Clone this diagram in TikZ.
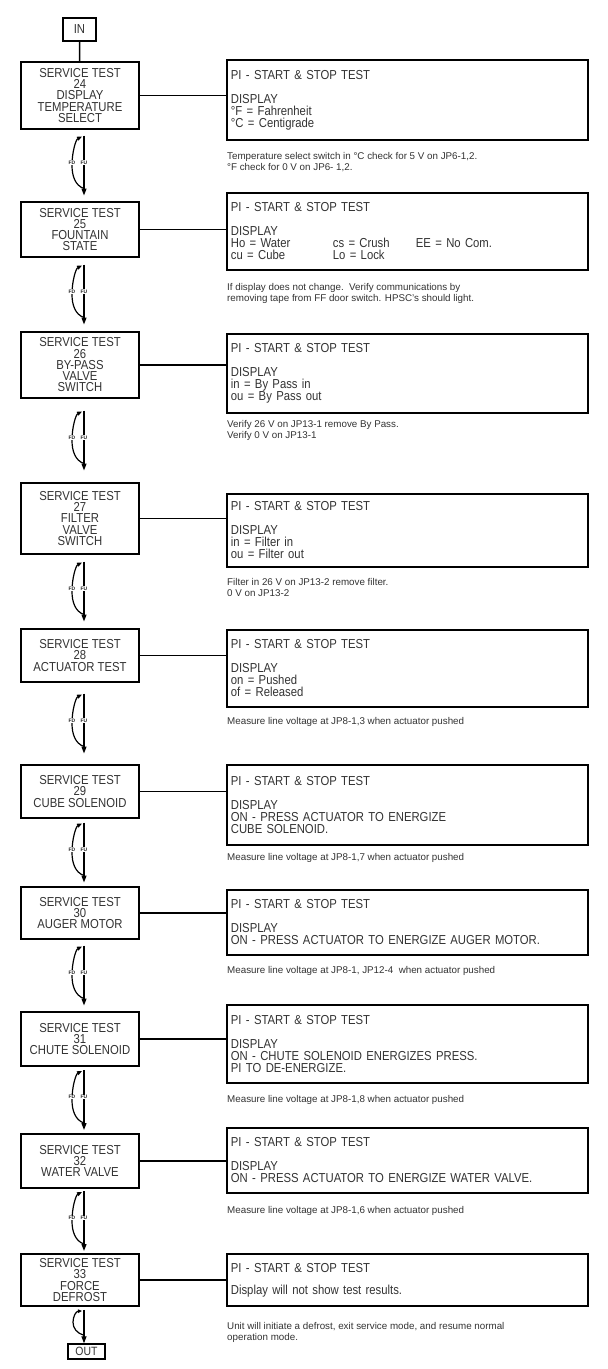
\documentclass[tikz,border=0pt]{standalone}
\usepackage{fontspec}
\setmainfont{Liberation Sans}
\newfontfamily\bxf{Liberation Sans}[FakeStretch=0.87]
\usetikzlibrary{arrows.meta,calc}
\newcommand\fdfulink[3]{%
  \coordinate (m#3) at ($(#1.south)!.5!(#2.north)$);
  \coordinate (t#3) at ($(m#3)+(4,-30)$);
  \coordinate (h#3) at ($(m#3)+(4,30)$);
  \draw[fdfu,-{Triangle[length=7pt,width=5pt]}] (t#3) -- (h#3);
  \draw[fdfu,-{Triangle[length=5pt,width=4pt]}] ($(m#3)+(4,23)$) .. controls ($(m#3)+(-5,20)$) and ($(m#3)+(-8,10)$) .. ($(m#3)+(-8,0)$) .. controls ($(m#3)+(-8,-14)$) and ($(m#3)+(-4,-26)$) .. ($(m#3)+(2,-29)$);
  \node[lab] (fd#3) at ($(m#3)+(-8,-3)$) {FD};
  \node[lab] (fu#3) at ($(m#3)+(4,-3)$) {FU};
}
\begin{document}
\begin{tikzpicture}[x=1pt,y=-1pt,
  lbox/.style={draw=black, line width=1.8pt, minimum width=118pt, inner sep=0pt, align=center,
    font=\bxf\fontsize{13}{11.25}\selectfont, text=black!80},
  rbox/.style={draw=black, line width=1.8pt, minimum width=361pt, text width=353pt, inner xsep=4pt,
    inner ysep=0pt, align=left, anchor=north west, font=\bxf\fontsize{13}{12}\selectfont, text=black!80},
  note/.style={anchor=west, align=left, font=\fontsize{9.8}{11}\selectfont, inner sep=0pt, text=black!80},
  link/.style={line width=1.8pt},
  fdfu/.style={line width=1.2pt},
  lab/.style={font=\fontsize{5}{5}\selectfont\bfseries, fill=white, inner sep=0.4pt, text=black!85},
  endbox/.style={draw=black, line width=1.6pt, inner sep=0pt, font=\bxf\fontsize{13}{12}\selectfont, text=black!80}
]
\useasboundingbox (0,0) rectangle (608,1369);
\fill[white] (0,0) rectangle (608,1369);

\node[endbox, minimum width=33pt, minimum height=23pt] (in) at (79.5,29.5) {IN};

% left boxes
\node[lbox, minimum height=67pt] (b24) at (80,95.5) {SERVICE TEST\\24\\DISPLAY\\TEMPERATURE\\SELECT};
\node[lbox, minimum height=55pt] (b25) at (80,229.5) {SERVICE TEST\\25\\FOUNTAIN\\STATE};
\node[lbox, minimum height=66pt] (b26) at (80,365) {SERVICE TEST\\26\\BY-PASS\\VALVE\\SWITCH};
\node[lbox, minimum height=71pt] (b27) at (80,518.5) {SERVICE TEST\\27\\FILTER\\VALVE\\SWITCH};
\node[lbox, minimum height=53pt] (b28) at (80,655.5) {SERVICE TEST\\28\\ACTUATOR TEST};
\node[lbox, minimum height=53pt] (b29) at (80,791.5) {SERVICE TEST\\29\\CUBE SOLENOID};
\node[lbox, minimum height=52pt] (b30) at (80,913) {SERVICE TEST\\30\\AUGER MOTOR};
\node[lbox, minimum height=54pt] (b31) at (80,1039) {SERVICE TEST\\31\\CHUTE SOLENOID};
\node[lbox, minimum height=54pt] (b32) at (80,1161) {SERVICE TEST\\32\\WATER VALVE};
\node[lbox, minimum height=52pt] (b33) at (80,1280) {SERVICE TEST\\33\\FORCE\\DEFROST};

\node[endbox, line width=1.4pt, minimum width=37pt, minimum height=15pt, font=\bxf\fontsize{12}{12}\selectfont] (out) at (86.5,1351.5) {OUT};

% right boxes
\node[rbox, minimum height=80pt] (r24) at (226,59) {PI - START \& STOP TEST\\[12pt]DISPLAY\\°F = Fahrenheit\\°C = Centigrade};
\node[rbox, minimum height=77pt] (r25) at (226,192) {PI - START \& STOP TEST\\[12pt]DISPLAY\\\makebox[102pt][l]{Ho = Water}\makebox[83pt][l]{cs = Crush}EE = No Com.\\\makebox[102pt][l]{cu = Cube}Lo = Lock};
\node[rbox, minimum height=79pt] (r26) at (226,333) {PI - START \& STOP TEST\\[12pt]DISPLAY\\in = By Pass in\\ou = By Pass out};
\node[rbox, minimum height=73pt] (r27) at (226,493) {PI - START \& STOP TEST\\[12pt]DISPLAY\\in = Filter in\\ou = Filter out};
\node[rbox, minimum height=77pt] (r28) at (226,629) {PI - START \& STOP TEST\\[12pt]DISPLAY\\on = Pushed\\of = Released};
\node[rbox, minimum height=80pt] (r29) at (226,764) {PI - START \& STOP TEST\\[12pt]DISPLAY\\ON - PRESS ACTUATOR TO ENERGIZE\\CUBE SOLENOID.};
\node[rbox, minimum height=65pt] (r30) at (226,889) {PI - START \& STOP TEST\\[12pt]DISPLAY\\ON - PRESS ACTUATOR TO ENERGIZE AUGER MOTOR.};
\node[rbox, minimum height=78pt] (r31) at (226,1004) {PI - START \& STOP TEST\\[12pt]DISPLAY\\ON - CHUTE SOLENOID ENERGIZES PRESS.\\PI TO DE-ENERGIZE.};
\node[rbox, minimum height=65pt] (r32) at (226,1127) {PI - START \& STOP TEST\\[12pt]DISPLAY\\ON - PRESS ACTUATOR TO ENERGIZE WATER VALVE.};
\node[rbox, minimum height=52pt] (r33) at (226,1253) {PI - START \& STOP TEST\\[10pt]Display will not show test results.};

% notes
\node[note] (n24) at (227,162.5) {Temperature select switch in °C check for 5 V on JP6-1,2.\\°F check for 0 V on JP6- 1,2.};
\node[note] (n25) at (227,293.5) {If display does not change.\ \ Verify communications by\\removing tape from FF door switch. HPSC’s should light.};
\node[note] (n26) at (227,430.5) {Verify 26 V on JP13-1 remove By Pass.\\Verify 0 V on JP13-1};
\node[note] (n27) at (227,587.5) {Filter in 26 V on JP13-2 remove filter.\\0 V on JP13-2};
\node[note] (n28) at (227,722) {Measure line voltage at JP8-1,3 when actuator pushed};
\node[note] (n29) at (227,858) {Measure line voltage at JP8-1,7 when actuator pushed};
\node[note] (n30) at (227,971) {Measure line voltage at JP8-1, JP12-4\ \ when actuator pushed};
\node[note] (n31) at (227,1100) {Measure line voltage at JP8-1,8 when actuator pushed};
\node[note] (n32) at (227,1211) {Measure line voltage at JP8-1,6 when actuator pushed};
\node[note] (n33) at (227,1332.5) {Unit will initiate a defrost, exit service mode, and resume normal\\operation mode.};

% links to right boxes
\foreach \k in {24,...,33} {
  \draw[link] (b\k.east) -- (b\k.east -| r\k.west);
}
\draw[line width=1.5pt] (in) -- (b24);

% FD/FU connectors
\fdfulink{b24}{b25}{a}
\fdfulink{b25}{b26}{b}
\fdfulink{b26}{b27}{c}
\fdfulink{b27}{b28}{d}
\fdfulink{b28}{b29}{e}
\fdfulink{b29}{b30}{f}
\fdfulink{b30}{b31}{g}
\fdfulink{b31}{b32}{h}
\fdfulink{b32}{b33}{i}

% last connector
\coordinate (tz) at ($(b33.south)+(4,3)$);
\coordinate (hz) at ($(out.north)+(-2.5,0)$);
\draw[fdfu,-{Triangle[length=7pt,width=5pt]}] (tz) -- (hz);
\draw[fdfu,-{Triangle[length=4pt,width=3.5pt]}] ($(hz)+(0,-8)$) .. controls ($(hz)+(-7,-10)$) and ($(hz)+(-11,-15)$) .. ($(hz)+(-11,-21)$) .. controls ($(hz)+(-11,-27)$) and ($(hz)+(-8,-32)$) .. ($(tz)+(-2,1)$);
\end{tikzpicture}
\end{document}
